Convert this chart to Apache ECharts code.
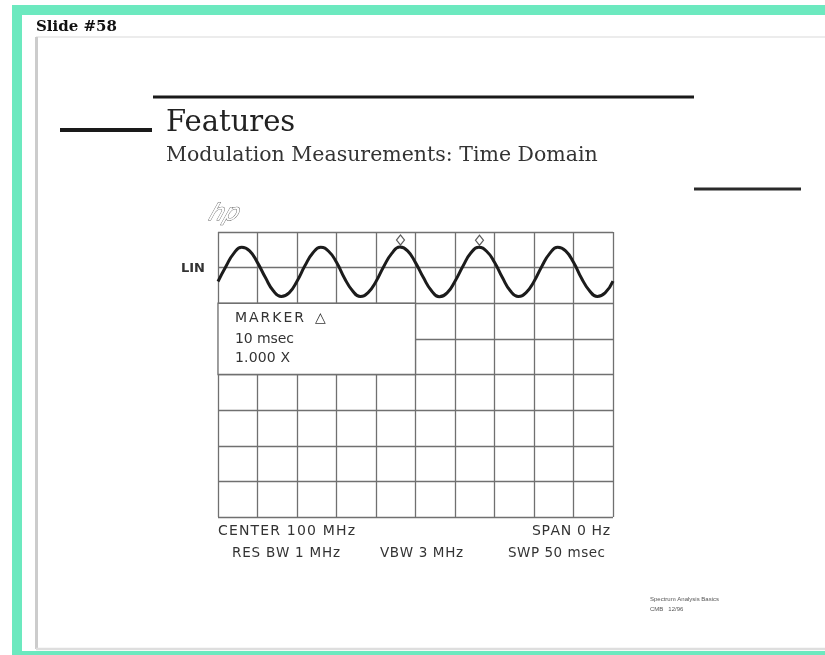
<!DOCTYPE html>
<html><head><meta charset="utf-8">
<script src="https://cdn.jsdelivr.net/npm/echarts@6/dist/echarts.min.js"></script>
<style>html,body{margin:0;padding:0;background:#fff}#c{width:825px;height:655px}</style>
</head><body><div id="c"></div>
<script>
// ---- data ----
// sweep time in msec (SWP 50 msec, 5 msec / division)
const timeMs = [0,1,2,3,4,5,6,7,8,9,10,11,12,13,14,15,16,17,18,19,20,21,22,23,24,25,26,27,28,29,30,31,32,33,34,35,36,37,38,39,40,41,42,43,44,45,46,47,48,49,50];
// trace level in screen divisions from the bottom (LIN scale, 8 divisions)
const traceDiv = [6.61,7.03,7.40,7.57,7.47,7.14,6.72,6.35,6.19,6.29,
                  6.62,7.05,7.41,7.57,7.46,7.15,6.71,6.36,6.19,6.30,
                  6.61,7.04,7.40,7.58,7.47,7.14,6.72,6.36,6.18,6.29,
                  6.62,7.04,7.41,7.57,7.46,7.15,6.72,6.35,6.19,6.30,
                  6.61,7.04,7.40,7.57,7.47,7.15,6.71,6.36,6.19,6.29,6.62];
// delta-marker positions [msec, division]
const markerPoints = [[23.1,7.58],[33.1,7.57]];
// marker readout box (msec range, division range)
const markerBoxX = [0,25];
const markerBoxY = [4,6];
const xRange = [0,50], xStep = 5;
const yRange = [0,8], yStep = 1;
// text
const slideLabel = 'Slide #58';
const titleText = 'Features';
const subtitleText = 'Modulation Measurements: Time Domain';
const scaleLabel = 'LIN';
const markerLines = ['MARKER','\u25B3','10 msec','1.000 X'];
const footerTop = ['CENTER 100 MHz','SPAN 0 Hz'];
const footerBottom = ['RES BW 1 MHz','VBW 3 MHz','SWP 50 msec'];
const creditLines = ['Spectrum Analysis Basics','CMB   12/96'];

// ---- rendering ----
const SANS = '"DejaVu Sans",sans-serif';
const SERIF = '"DejaVu Serif",serif';
const TXT = '#333333';
const GRIDC = '#707070';
const mc = document.createElement('canvas').getContext('2d');
function fitText(str, x0, x1, yc, size, color, weight) {
  const font = 'normal ' + (weight || 'normal') + ' ' + size + 'px ' + SANS;
  mc.font = font;
  const chars = Array.from(str);
  const w = chars.map(ch => mc.measureText(ch).width);
  const sum = w.reduce((a, b) => a + b, 0);
  const gap = chars.length > 1 ? ((x1 - x0) - sum) / (chars.length - 1) : 0;
  let x = x0; const out = [];
  chars.forEach((ch, i) => {
    if (ch !== ' ') out.push({type: 'text', x: x, y: yc, z: 20, silent: true,
      style: {text: ch, font: font, fill: color, align: 'left', verticalAlign: 'middle', textAlign: 'left', textVerticalAlign: 'middle'}});
    x += w[i] + gap;
  });
  return out;
}
function txt(str, x, y, font, color, extra) {
  return Object.assign({type: 'text', x: x, y: y, z: 20, silent: true,
    style: Object.assign({text: str, font: font, fill: color, align: 'left', verticalAlign: 'middle', textAlign: 'left', textVerticalAlign: 'middle'}, extra || {})});
}
function line(x1, y1, x2, y2, color, w, z) {
  return {type: 'line', z: z || 5, silent: true, shape: {x1: x1, y1: y1, x2: x2, y2: y2}, style: {stroke: color, lineWidth: w}};
}
function rect(x, y, w, h, color, z) {
  return {type: 'rect', z: z || -10, silent: true, shape: {x: x, y: y, width: w, height: h}, style: {fill: color}};
}

const GREEN = '#6ce9bf';
let g = [
  rect(12, 5, 813, 10, GREEN),
  rect(12, 5, 10, 650, GREEN),
  rect(12, 651, 813, 4, GREEN),
  line(36, 37, 825, 37, '#e6e6e6', 1.5, -5),
  line(36.5, 37, 36.5, 649, '#cccccc', 3, -5),
  line(36, 649, 825, 649, '#dedede', 2.5, -5),
  line(153, 97, 694, 97, '#1a1a1a', 3),
  line(60, 130, 152, 130, '#1a1a1a', 4),
  line(694, 189, 801, 189, '#2a2a2a', 3),
  txt(slideLabel, 36, 27, 'bold 15px ' + SERIF, '#111'),
  txt(titleText, 166, 123, 'normal 29px ' + SERIF, '#222'),
  txt(subtitleText, 166, 156, 'normal 20.5px ' + SERIF, '#333'),
  Object.assign(txt('hp', 210, 214, 'italic 23px ' + SANS, '#ffffff', {stroke: '#666', lineWidth: 0.9}), {skewX: -0.35}),
  txt(creditLines[0], 650, 599, 'normal 6px "Liberation Sans",sans-serif', '#555'),
  txt(creditLines[1], 650, 609, 'normal 6px "Liberation Sans",sans-serif', '#555')
];
g = g.concat(fitText(scaleLabel, 181, 205, 269, 13, TXT, 'bold'));
g = g.concat(fitText(markerLines[0], 235, 304, 318, 14, TXT));
g = g.concat(fitText(markerLines[1], 315, 328, 318, 14, TXT));
g = g.concat(fitText(markerLines[2], 235, 294, 339, 14, TXT));
g = g.concat(fitText(markerLines[3], 235, 290, 358, 14, TXT));
g = g.concat(fitText(footerTop[0], 218, 355, 531, 14, TXT));
g = g.concat(fitText(footerTop[1], 532, 610, 531, 14, TXT));
g = g.concat(fitText(footerBottom[0], 232, 340, 553, 13.5, TXT));
g = g.concat(fitText(footerBottom[1], 380, 463, 553, 13.5, TXT));
g = g.concat(fitText(footerBottom[2], 508, 605, 553, 13.5, TXT));

const axisCommon = {
  axisLine: {show: false}, axisTick: {show: false}, axisLabel: {show: false},
  splitLine: {show: true, lineStyle: {color: GRIDC, width: 1.3}}
};
const chart = echarts.init(document.getElementById('c'), null, {renderer: 'canvas'});
chart.setOption({
  animation: false,
  backgroundColor: '#ffffff',
  grid: {left: 218, top: 232, width: 395, height: 285, show: false},
  xAxis: Object.assign({type: 'value', min: xRange[0], max: xRange[1], interval: xStep}, axisCommon),
  yAxis: Object.assign({type: 'value', min: yRange[0], max: yRange[1], interval: yStep}, axisCommon),
  series: [
    {
      type: 'line', z: 3, silent: true,
      data: timeMs.map((t, i) => [t, traceDiv[i]]),
      smooth: 0.5, symbol: 'none',
      lineStyle: {color: '#1c1c1c', width: 3},
      markArea: {
        silent: true,
        itemStyle: {color: '#ffffff', borderColor: GRIDC, borderWidth: 1.3},
        data: [[{xAxis: markerBoxX[0], yAxis: markerBoxY[0]}, {xAxis: markerBoxX[1], yAxis: markerBoxY[1]}]]
      }
    },
    {
      type: 'scatter', z: 4, silent: true,
      data: markerPoints,
      symbol: 'diamond', symbolSize: [8, 10], symbolOffset: [0, -7],
      itemStyle: {color: '#ffffff', borderColor: '#333', borderWidth: 1.2}
    }
  ],
  graphic: g
});
</script>
</body></html>
